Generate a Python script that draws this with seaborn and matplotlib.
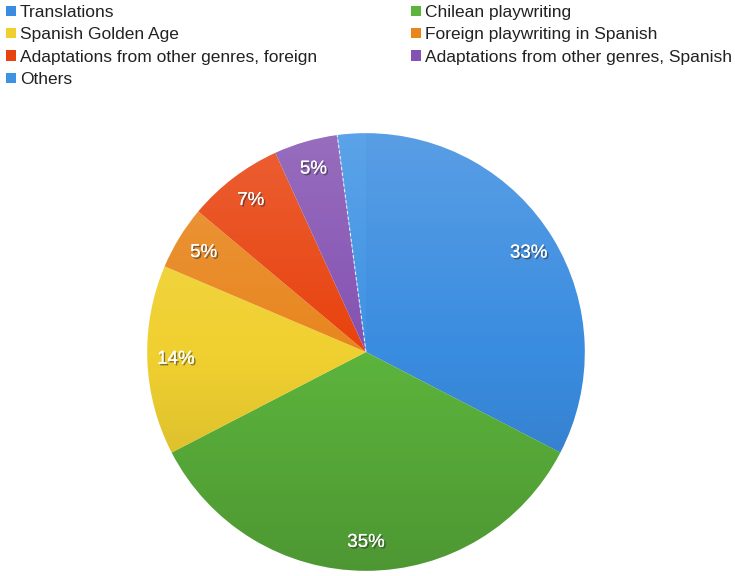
import matplotlib
matplotlib.use("Agg")
import matplotlib.pyplot as plt
import matplotlib.patheffects as pe
from matplotlib.patches import Patch, Circle
import numpy as np
import seaborn as sns

categories = ["Translations", "Chilean playwriting", "Spanish Golden Age",
              "Foreign playwriting in Spanish", "Adaptations from other genres, foreign",
              "Adaptations from other genres, Spanish", "Others"]
shares = [32.6, 34.8, 14.0, 4.7, 7.1, 4.7, 2.1]
colors = ["#3a8ce0", "#5cb43c", "#f0d030", "#e8861e", "#e8420e", "#8452b2", "#3d92e4"]

sns.set_theme(style="white")
plt.rcParams['font.family'] = ['Liberation Sans', 'DejaVu Sans']

fig = plt.figure(figsize=(7.35, 5.76), dpi=100)
W, H = 735, 576
cx, cy, r = 366, 352, 221
ax = fig.add_axes([(cx - r) / W, (H - cy - r) / H, 2 * r / W, 2 * r / H])

def fmt(p):
    return f"{p:.0f}%" if p >= 3 else ""

wedges, texts, autotexts = ax.pie(
    shares, colors=colors, startangle=90, counterclock=False,
    autopct=fmt, pctdistance=0.87, radius=1.0,
    wedgeprops=dict(linewidth=0),
    textprops=dict(color="white", fontsize=13.5, zorder=5))

# dashed separator at the start of the "Others" slice
theta = np.deg2rad(wedges[-1].theta2)
ax.plot([0, np.cos(theta)], [0, np.sin(theta)], color="white", lw=0.8,
        ls=(0, (3, 2)), alpha=0.8, zorder=4)

# subtle vertical shading like the original
grad = np.zeros((256, 1, 4))
t = np.linspace(0, 1, 256)
grad[:, 0, :3] = np.where(t[:, None] < 0.5, 1.0, 0.0)
grad[:, 0, 3] = np.abs(t - 0.5) * 2 * 0.16
im = ax.imshow(grad, extent=(-1, 1, -1, 1), origin="upper", aspect="auto",
               interpolation="bilinear", zorder=3)
clip = Circle((0, 0), 1.0, transform=ax.transData)
im.set_clip_path(clip)

for tx in autotexts:
    tx.set_path_effects([pe.withSimplePatchShadow(offset=(1.2, -1.2), shadow_rgbFace="#303030", alpha=0.6),
                         pe.Normal()])
ax.set_xlim(-1.01, 1.01)
ax.set_ylim(-1.01, 1.01)
ax.set_aspect("equal")
ax.axis("off")

handles = [Patch(facecolor=c, edgecolor="none") for c in colors]
left_idx = [0, 2, 4, 6]
right_idx = [1, 3, 5]
common = dict(frameon=False, fontsize=12.5, handlelength=0.55, handleheight=0.55,
              handletextpad=0.25, labelspacing=0.42, borderaxespad=0, borderpad=0)
leg1 = fig.legend([handles[i] for i in left_idx], [categories[i] for i in left_idx],
                  loc="upper left", bbox_to_anchor=(6 / W, 1 - 5 / H), **common)
leg2 = fig.legend([handles[i] for i in right_idx], [categories[i] for i in right_idx],
                  loc="upper left", bbox_to_anchor=(411 / W, 1 - 5 / H), **common)
for leg in (leg1, leg2):
    for tt in leg.get_texts():
        tt.set_color("#222222")

fig.savefig("out.png", dpi=100, facecolor="white")
